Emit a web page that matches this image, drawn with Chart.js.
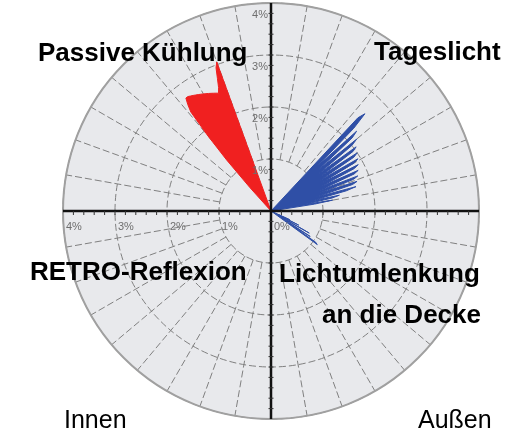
<!DOCTYPE html>
<html>
<head>
<meta charset="utf-8">
<script src="https://cdn.jsdelivr.net/npm/chart.js@4.4.0/dist/chart.umd.min.js"></script>
<style>
  html, body { margin: 0; padding: 0; background: #fff; }
  #wrap { width: 514px; height: 434px; }
</style>
</head>
<body>
<div id="wrap"><canvas id="rose" width="514" height="434"></canvas></div>
<script>
// Bearings in degrees, clockwise from the top (90 = Außen side, 270 = Innen side)
const redBearings = [317, 318, 319, 320, 321, 322, 323, 324, 325, 326, 327, 328, 329,
                     330, 331, 332, 333, 334, 335, 336, 337, 338, 339, 340, 341];
const redValues   = [0, 0.6, 1.3, 1.9, 2.45, 2.6, 2.72, 2.72, 2.7, 2.68, 2.66, 2.64, 2.62,
                     2.6, 2.58, 2.56, 2.54, 2.52, 2.5, 2.48, 2.58, 2.75, 2.95, 3.05, 0];

const blueBearings = [42, 43, 44, 45, 46, 47, 48, 49, 50, 51, 52, 53, 54, 55, 56, 57, 58, 59, 60, 61,
                      62, 63, 64, 65, 66, 67, 68, 69, 70, 71, 72, 73, 74, 75, 76, 77, 78, 79, 80, 81, 82,
                      114, 115, 116, 117, 118, 119, 120, 121, 122, 123, 124, 125, 126, 127];
const blueValues   = [0, 2.45, 2.6, 2.25, 1.25, 2.25, 2.1, 1.2, 2.15, 2.0, 1.15, 2.05, 1.95, 1.15, 2.0, 1.9, 1.1, 1.95, 1.85, 1.1,
                      1.9, 1.8, 1.05, 1.85, 1.75, 1.0, 1.8, 1.7, 0.95, 1.75, 1.65, 0.9, 1.7, 1.5, 0.8, 1.35, 1.2, 0.65, 1.2, 0.85, 0,
                      0, 0.4, 0.15, 0.6, 0.25, 0.2, 0.85, 0.35, 0.25, 0.9, 0.45, 1.05, 1.1, 0];

const tickLabels = ['0%', '1%', '2%', '3%', '4%'];

const labels = [];
for (let a = 0; a < 360; a++) labels.push(a);

function fullCircle(bearings, values) {
    const arr = new Array(360).fill(0);
    bearings.forEach((b, i) => { arr[b] = values[i]; });
    return arr;
}

const polarDecor = {
    id: 'polarDecor',
    beforeDraw(chart) {
        const r = chart.scales.r;
        const ctx = chart.ctx;
        ctx.save();
        ctx.fillStyle = '#e8e9ec';
        ctx.beginPath();
        ctx.arc(r.xCenter, r.yCenter, r.drawingArea, 0, Math.PI * 2);
        ctx.fill();
        ctx.restore();
    },
    beforeDatasetsDraw(chart) {
        const r = chart.scales.r;
        const ctx = chart.ctx;
        const cx = r.xCenter, cy = r.yCenter, R = r.drawingArea;
        const r1 = r.getDistanceFromCenterForValue(1);
        ctx.save();
        // spokes, only outside the 1% ring
        ctx.strokeStyle = '#808080';
        ctx.lineWidth = 1;
        ctx.setLineDash([7, 3]);
        for (let a = 0; a < 360; a += 10) {
            if (a % 90 === 0) continue;
            const t = (a - 90) * Math.PI / 180;
            ctx.beginPath();
            ctx.moveTo(cx + r1 * Math.cos(t), cy + r1 * Math.sin(t));
            ctx.lineTo(cx + R * Math.cos(t), cy + R * Math.sin(t));
            ctx.stroke();
        }
        // outer ring
        ctx.setLineDash([]);
        ctx.lineWidth = 2;
        ctx.strokeStyle = '#a0a0a0';
        ctx.beginPath();
        ctx.arc(cx, cy, R, 0, Math.PI * 2);
        ctx.stroke();
        ctx.restore();
    },
    afterDatasetsDraw(chart) {
        const r = chart.scales.r;
        const ctx = chart.ctx;
        const cx = r.xCenter, cy = r.yCenter, R = r.drawingArea;
        ctx.save();
        ctx.strokeStyle = '#111';
        ctx.lineWidth = 2.5;
        ctx.beginPath();
        ctx.moveTo(cx - R, cy); ctx.lineTo(cx + R, cy);
        ctx.moveTo(cx, cy - R); ctx.lineTo(cx, cy + R);
        ctx.stroke();
        // small ruler ticks along both axes
        ctx.lineWidth = 1;
        ctx.strokeStyle = '#333';
        ctx.beginPath();
        for (let v = 0.2; v < 4; v += 0.2) {
            const d = r.getDistanceFromCenterForValue(v);
            ctx.moveTo(cx - 2.5, cy - d); ctx.lineTo(cx + 2.5, cy - d);
            ctx.moveTo(cx - 2.5, cy + d); ctx.lineTo(cx + 2.5, cy + d);
            ctx.moveTo(cx - d, cy); ctx.lineTo(cx - d, cy + 4);
            ctx.moveTo(cx + d, cy); ctx.lineTo(cx + d, cy + 4);
        }
        ctx.stroke();

        // tick labels
        ctx.fillStyle = '#6e6e6e';
        ctx.font = '11px "Liberation Sans", Arial, sans-serif';
        ctx.textBaseline = 'middle';
        tickLabels.forEach((lab, i) => {
            const d = r.getDistanceFromCenterForValue(i);
            if (i > 0) {
                ctx.textAlign = 'right';
                ctx.fillText(lab, cx - 3, cy - d + 12);
                ctx.textAlign = 'left';
                ctx.fillText(lab, cx - d + 3, cy + 16);
            } else {
                ctx.textAlign = 'left';
                ctx.fillText(lab, cx + 3, cy + 16);
            }
        });
        ctx.restore();
    },
    afterDraw(chart) {
        const ctx = chart.ctx;
        ctx.save();
        ctx.fillStyle = '#000';
        ctx.textBaseline = 'alphabetic';
        ctx.textAlign = 'left';
        ctx.font = 'bold 26px "Liberation Sans", Arial, sans-serif';
        ctx.fillText('Passive Kühlung', 38, 61);
        ctx.fillText('Tageslicht', 374, 60);
        ctx.fillText('RETRO-Reflexion', 30, 280);
        ctx.fillText('Lichtumlenkung', 279, 282);
        ctx.fillText('an die Decke', 322, 323);
        ctx.font = '25px "Liberation Sans", Arial, sans-serif';
        ctx.fillText('Innen', 64, 428);
        ctx.fillText('Außen', 418, 428);
        ctx.restore();
    }
};

const ctx = document.getElementById('rose').getContext('2d');
const rose = new Chart(ctx, {
    type: 'radar',
    data: {
        labels: labels,
        datasets: [
            {
                label: 'Passive Kühlung',
                data: fullCircle(redBearings, redValues),
                backgroundColor: '#f02020',
                borderColor: '#f02020',
                borderWidth: 1,
                fill: 'origin',
                pointRadius: 0,
                tension: 0
            },
            {
                label: 'Tageslicht',
                data: fullCircle(blueBearings, blueValues),
                backgroundColor: '#2f4fa6',
                borderColor: '#2f4fa6',
                borderWidth: 1,
                fill: 'origin',
                pointRadius: 0,
                tension: 0
            }
        ]
    },
    options: {
        responsive: false,
        animation: false,
        layout: { padding: { left: 63, right: 35, top: 3, bottom: 15 } },
        plugins: {
            legend: { display: false },
            tooltip: { enabled: false }
        },
        scales: {
            r: {
                min: 0,
                max: 4,
                ticks: { display: false, stepSize: 1 },
                pointLabels: { display: false },
                angleLines: { display: false },
                grid: { circular: true, color: '#808080', lineWidth: 1 },
                border: { dash: [7, 3] }
            }
        }
    },
    plugins: [polarDecor]
});
</script>
</body>
</html>
